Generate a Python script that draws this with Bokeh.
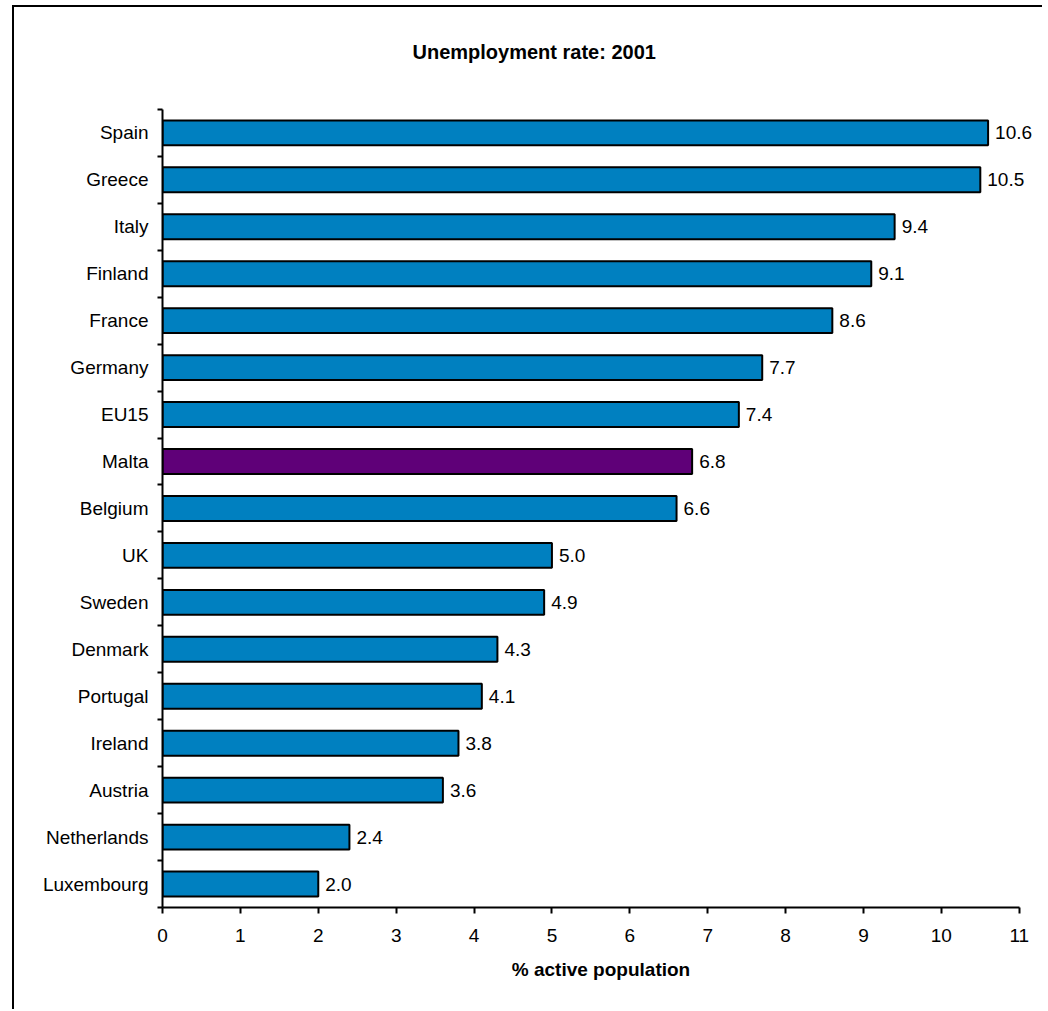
from bokeh.plotting import figure
from bokeh.models import FixedTicker, Range1d, ColumnDataSource, Label
from bokeh.core.properties import value
from bokeh.embed import file_html
from bokeh.resources import INLINE

countries = ["Spain", "Greece", "Italy", "Finland", "France", "Germany", "EU15", "Malta",
             "Belgium", "UK", "Sweden", "Denmark", "Portugal", "Ireland", "Austria",
             "Netherlands", "Luxembourg"]
rates = [10.6, 10.5, 9.4, 9.1, 8.6, 7.7, 7.4, 6.8, 6.6, 5.0, 4.9, 4.3, 4.1, 3.8, 3.6, 2.4, 2.0]
highlight = "Malta"
x_ticks = list(range(0, 12))
title_text = "Unemployment rate: 2001"

BLUE = "#0080C0"
PURPLE = "#5F0078"
FONT = "Liberation Sans"

n = len(countries)
ys = [n - 1 - i for i in range(n)]
src = ColumnDataSource(dict(
    y=ys,
    v=rates,
    lbl=[f"{r:.1f}" for r in rates],
    color=[PURPLE if c == highlight else BLUE for c in countries],
))

# extra room above the last category holds the title inside the frame
p = figure(width=1030, height=1004, x_range=Range1d(0, 11.26), y_range=Range1d(-0.5, n - 0.5 + 2),
           output_backend="svg", toolbar_location=None,
           min_border_left=148, min_border_right=5, min_border_top=8, min_border_bottom=104)
p.styles = {"margin": "5px 0 0 12px", "border-left": "2px solid black", "border-top": "2px solid black"}

p.add_layout(Label(x=250, y=856, x_units="screen", y_units="screen", text=title_text,
                   text_font=FONT, text_font_size="20px", text_font_style="bold",
                   text_color="black", text_align="left", text_baseline="middle"))

p.grid.visible = False
p.outline_line_color = None

p.hbar(y="y", left=0, right="v", height=0.53, fill_color="color", line_color="black",
       line_width=2, source=src)
p.text(x="v", y="y", text="lbl", x_offset=7, text_baseline="middle", text_align="left",
       text_font=value(FONT), text_font_size="19px", text_color="black", source=src)

ya = p.yaxis[0]
ya.bounds = (-0.5, n - 0.5)
ya.ticker = FixedTicker(ticks=ys, minor_ticks=[k - 0.5 for k in range(n + 1)])
ya.major_label_overrides = {y: c for y, c in zip(ys, countries)}
ya.major_tick_out = 0
ya.major_tick_in = 0
ya.minor_tick_out = 5
ya.minor_tick_in = 0
ya.minor_tick_line_width = 2
ya.minor_tick_line_color = "black"
ya.axis_line_width = 2
ya.axis_line_color = "black"
ya.major_label_standoff = 9
ya.major_label_text_font = FONT
ya.major_label_text_font_size = "19px"
ya.major_label_text_color = "black"

xa = p.xaxis[0]
xa.ticker = FixedTicker(ticks=x_ticks, minor_ticks=[])
xa.bounds = (0, 11)
xa.major_tick_out = 6
xa.major_tick_in = 0
xa.major_tick_line_width = 2
xa.major_tick_line_color = "black"
xa.axis_line_width = 2
xa.axis_line_color = "black"
xa.major_label_standoff = 15
xa.major_label_text_font = FONT
xa.major_label_text_font_size = "19px"
xa.major_label_text_color = "black"
xa.axis_label = "% active population"
xa.axis_label_text_font = FONT
xa.axis_label_text_font_size = "19px"
xa.axis_label_text_font_style = "bold"
xa.axis_label_text_color = "black"
xa.axis_label_standoff = 14

open("out.html", "w").write(file_html(p, INLINE))
